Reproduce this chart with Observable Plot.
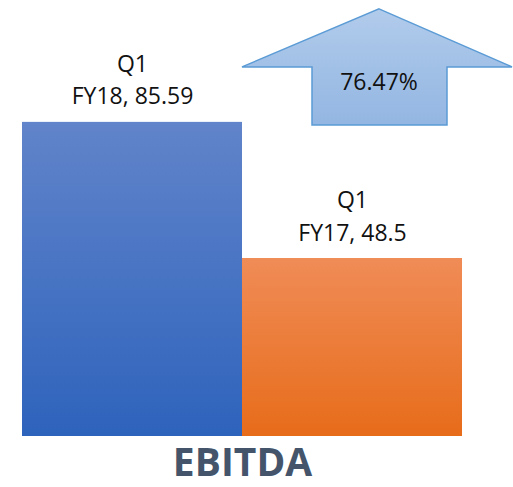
<!DOCTYPE html>
<html><head><meta charset="utf-8">
<script src="https://cdn.jsdelivr.net/npm/d3@7"></script>
<script src="https://cdn.jsdelivr.net/npm/@observablehq/plot@0.6"></script>
<style>body{margin:0;background:#fff;font-family:"Open Sans",sans-serif;}</style>
</head><body><div id="chart"></div>
<script>
const quarters = ["Q1", "Q1"];
const years = ["FY18", "FY17"];
const values = [85.59, 48.5];
const chartTitle = "EBITDA";
const changeLabel = "76.47%";

const gradIds = ["gBlue", "gOrange"];
const data = years.map((y, i) => ({
  year: y, quarter: quarters[i], value: values[i], fill: `url(#${gradIds[i]})`
}));

function defs() {
  const g = d3.create("svg:defs");
  const add = (id, c0, c1) => {
    const lg = g.append("linearGradient").attr("id", id)
      .attr("x1", 0).attr("y1", 0).attr("x2", 0).attr("y2", 1);
    lg.append("stop").attr("offset", 0).attr("stop-color", c0);
    lg.append("stop").attr("offset", 1).attr("stop-color", c1);
  };
  add("gBlue", "#6184CA", "#2E63BC");
  add("gOrange", "#F08C57", "#E76C1A");
  add("gArrow", "#B1CBEB", "#93B6E2");
  return g.node();
}

function arrow(index, scales, vals, dims) {
  const left = scales.x(years[1]);           // head left edge at start of second band
  const right = dims.width - 1;
  const tipX = 379, shaftL = 312, shaftR = 447;
  const bottom = scales.y(values[0]) + 3;
  const headBase = bottom - 58, tipY = bottom - 116;
  const g = d3.create("svg:g");
  g.append("path")
    .attr("d", `M${tipX},${tipY}L${right},${headBase}L${shaftR},${headBase}L${shaftR},${bottom}L${shaftL},${bottom}L${shaftL},${headBase}L${left},${headBase}Z`)
    .attr("fill", "url(#gArrow)")
    .attr("stroke", "#5B9BD5")
    .attr("stroke-width", 1.5)
    .attr("stroke-linejoin", "miter");
  g.append("text")
    .attr("x", tipX).attr("y", bottom - 35)
    .attr("text-anchor", "middle")
    .attr("font-family", "Open Sans")
    .attr("font-size", 23)
    .attr("fill", "#111")
    .text(changeLabel);
  return g.node();
}

const plot = Plot.plot({
  width: 513,
  height: 487,
  marginLeft: 22,
  marginRight: 51,
  marginBottom: 51,
  marginTop: 69,
  style: {fontFamily: "Open Sans", background: "#fff"},
  x: {domain: years, padding: 0, axis: null},
  y: {domain: [0, 100], axis: null},
  marks: [
    defs,
    Plot.barY(data, {x: "year", y: "value", fill: d => d.fill}),
    Plot.text(data, {
      x: "year", y: "value",
      text: d => `${d.quarter}\n${d.year}, ${d.value}`,
      lineAnchor: "bottom", dy: -18, fontSize: 23, lineHeight: 1.43, fill: "#111"
    }),
    arrow,
    Plot.text([chartTitle], {
      frameAnchor: "bottom", text: d => d, lineAnchor: "bottom", dy: 39,
      fontSize: 39, fontWeight: "bold", fill: "#44546A"
    })
  ]
});
document.getElementById("chart").appendChild(plot);
</script>
</body></html>
